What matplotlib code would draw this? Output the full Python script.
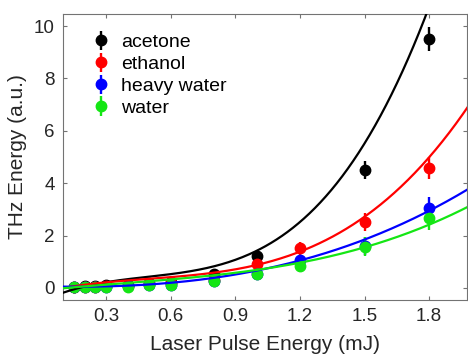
import numpy as np
import matplotlib
matplotlib.use("Agg")
import matplotlib.pyplot as plt

plt.rcParams["font.family"] = ["Liberation Sans", "DejaVu Sans"]

# pulse energies (mJ)
pulse_mj = [0.15, 0.2, 0.25, 0.3, 0.4, 0.5, 0.6, 0.8, 1.0, 1.2, 1.5, 1.8]

# measured THz energy (a.u.) and error bars
acetone = [0.05, 0.06, 0.08, 0.10, 0.12, 0.20, 0.22, 0.55, 1.23, np.nan, 4.50, 9.50]
acetone_err = [0.03, 0.03, 0.03, 0.03, 0.04, 0.05, 0.06, 0.12, 0.20, np.nan, 0.34, 0.45]

ethanol = [0.03, 0.04, 0.05, 0.06, 0.08, 0.14, 0.18, 0.30, 0.92, 1.52, 2.53, 4.57]
ethanol_err = [0.03, 0.03, 0.03, 0.03, 0.04, 0.06, 0.08, 0.12, 0.16, 0.25, 0.35, 0.42]

heavy_water = [0.03, 0.03, 0.04, 0.05, 0.06, 0.10, 0.12, 0.25, 0.55, 1.05, 1.60, 3.04]
heavy_water_err = [0.03, 0.03, 0.03, 0.03, 0.04, 0.05, 0.06, 0.12, 0.18, 0.22, 0.33, 0.42]

water = [0.03, 0.03, 0.03, 0.03, 0.04, 0.10, 0.10, 0.28, 0.52, 0.85, 1.58, 2.68]
water_err = [0.05, 0.05, 0.05, 0.05, 0.06, 0.08, 0.10, 0.18, 0.20, 0.25, 0.35, 0.45]

# cubic fit coefficients (highest power first)
acetone_fit = [4.078, -6.024, 3.883, -0.514]
ethanol_fit = [1.7255, -2.556, 1.874, -0.1636]
heavy_water_fit = [0.2529, 0.5422, -0.1931, 0.0636]
water_fit = [0.4544, -0.5049, 0.8284, -0.0882]

labels = ["acetone", "ethanol", "heavy water", "water"]
colors = ["black", "#ff0000", "#0000ff", "#14e614"]
series = [acetone, ethanol, heavy_water, water]
errors = [acetone_err, ethanol_err, heavy_water_err, water_err]
fits = [acetone_fit, ethanol_fit, heavy_water_fit, water_fit]

fig = plt.figure(figsize=(4.68, 3.54), dpi=100)
ax = fig.add_axes([0.1346, 0.1525, 0.863, 0.808])

handles = []
for y, e, c, lab in zip(series, errors, colors, labels):
    h = ax.errorbar(pulse_mj, y, yerr=e, fmt="o", color=c, ms=7.5,
                    elinewidth=1.7, capsize=0, label=lab, zorder=2)
    handles.append(h)

xs = np.linspace(0.1, 2.0, 300)
for p, c in zip(fits, colors):
    ax.plot(xs, np.polyval(p, xs), color=c, lw=1.6, zorder=3)

ax.set_xlim(0.1, 1.975)
ax.set_ylim(-0.46, 10.46)
ax.set_xticks([0.3, 0.6, 0.9, 1.2, 1.5, 1.8])
ax.set_yticks([0, 2, 4, 6, 8, 10])
ax.set_xticklabels(["0.3", "0.6", "0.9", "1.2", "1.5", "1.8"])

for s in ax.spines.values():
    s.set_color("0.45")
    s.set_linewidth(0.8)
ax.tick_params(direction="in", length=3, width=0.8, color="0.45",
               top=True, right=True, labelsize=13.5, labelcolor="0.15", pad=6)

ax.set_xlabel("Laser Pulse Energy (mJ)", fontsize=15, color="0.15", labelpad=7)
ax.set_ylabel("THz Energy (a.u.)", fontsize=15, color="0.15", labelpad=5)

ax.legend(handles=handles, loc="upper left", bbox_to_anchor=(0.04, 0.972),
          frameon=False, fontsize=14, handlelength=1.0, handletextpad=0.55,
          labelspacing=0.22, borderaxespad=0.2)

fig.savefig("out.png", dpi=100)
